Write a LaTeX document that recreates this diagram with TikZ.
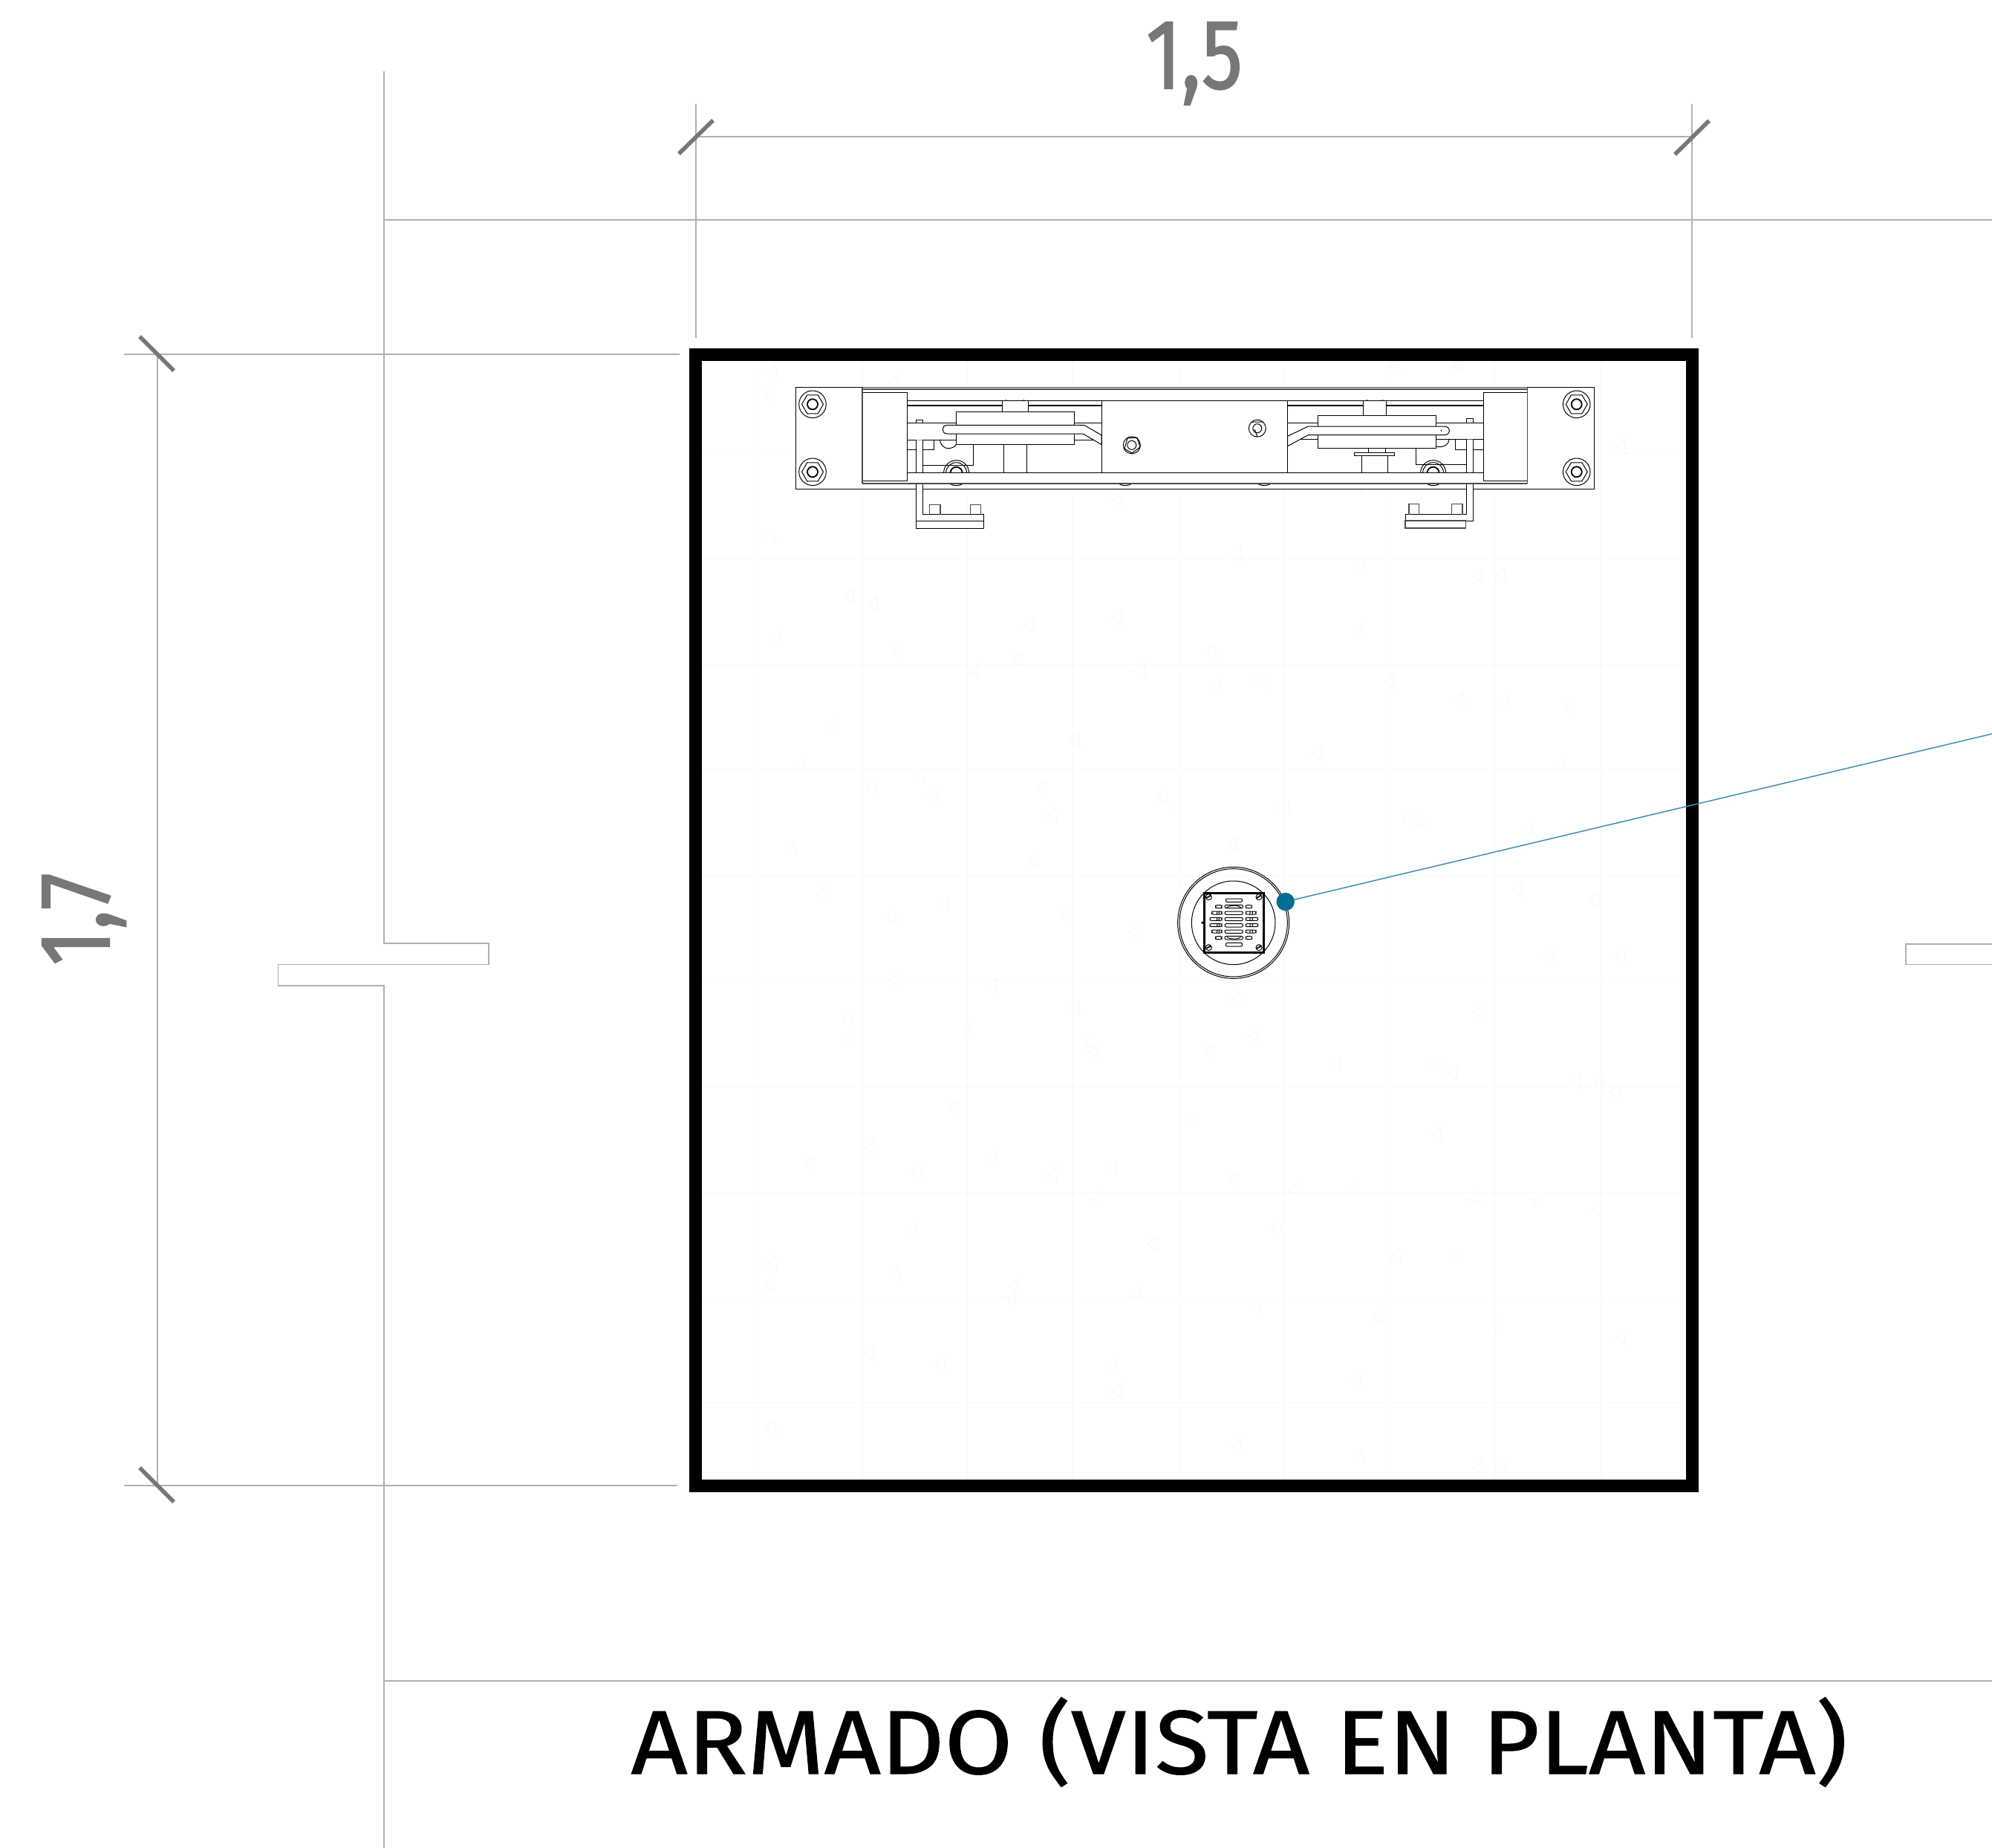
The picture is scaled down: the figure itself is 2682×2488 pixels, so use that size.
\documentclass[tikz,border=0pt]{standalone}
\usepackage{graphicx}
\usepackage{fontspec}
\setmainfont{Fira Sans}
\newfontfamily\dinnum[FakeBold=1.6]{Fira Sans}
\newfontfamily\dintitle[FakeBold=0.8]{Fira Sans}
\definecolor{dimgrey}{HTML}{777777}
\definecolor{lightln}{HTML}{B0B0B0}
\definecolor{faintln}{HTML}{F8F8F8}
\definecolor{leaderc}{HTML}{3F8FB0}
\definecolor{dotc}{HTML}{006D92}
\tikzset{
  refline/.style={draw=lightln,line width=1.3pt},
  tickmark/.style={draw=dimgrey,line width=5.5pt},
  mech/.style={draw=black,line width=1pt},
  mechw/.style={draw=black,line width=1pt,fill=white},
  mechthick/.style={draw=black,line width=1.8pt},
  mechgrey/.style={draw=black!70,line width=1.4pt},
  faint/.style={draw=faintln,line width=0.9pt},
  txt/.style={inner sep=0pt,outer sep=0pt,font=\fontsize{120}{120}\selectfont}
}
\newcommand{\boltset}[2]{%
  \draw[mech] (#1,#2) circle (18.3);
  \begin{scope}[shift={(#1pt,-#2pt)}]
    \draw[mech] (14.5,0)--(7.25,12.5)--(-7.25,12.5)--(-14.5,0)--(-7.25,-12.5)--(7.25,-12.5)--cycle;
    \draw[mechthick] (0,0) circle (7);
  \end{scope}}
\newcommand{\slotbox}[4]{\draw[mech,rounded corners=2pt] (#1,#2) rectangle (#3,#4);}
\begin{document}
\begin{tikzpicture}[x=1pt,y=-1pt]
\useasboundingbox (0,0) rectangle (2682,2488);
\fill[white] (0,0) rectangle (2682,2488);

% faint hatch of the slab
\begin{scope}
\clip (945,486) rectangle (2270,1992);
\foreach \yy in {610,752,894,1036,1178,1320,1462,1605,1747,1888}
  \draw[faint] (945,\yy) -- (2270,\yy);
\foreach \xx in {1019,1161,1302,1444,1587,1728,1870,2012,2155}
  \draw[faint] (\xx,486) -- (\xx,1992);
\foreach \dy in {-1200,0,1200}{
\begin{scope}[shift={(1000pt,-\dy pt-700pt)},x=0.765pt,y=-0.765pt]
\foreach \a/\b in {40/30,178/135,220/150,495/185,50/210,262/232,398/268,475/245,690/265,815/232,150/365,575/388,90/435,218/470,303/452,325/485,518/470,535/522,75/580,503/603,730/490,755/510,945/508,1160/528,1182/532,852/572,130/658,345/678,252/700,558/695,680/725,258/810,430/820,575/862,858/845,175/880,180/915,385/900,600/920,608/938,890/910,812/935,1035/960,1210/960,1240/975,360/1035,785/1058,215/1105,430/1125,108/1132,297/1150,535/1155,640/1142,615/1198,855/1160,962/1180,1068/1180,1212/1082,288/1250,712/1275,930/1248,1140/1298,1248/1298,42/1310,258/1328,468/1350,38/1348,462/1372,682/1365,892/1385,1108/1405,1318/1420,215/1468,338/1488,640/1490,1070/1515,650/1535,1497/992,1525/1008,1458/990,1285/868,1410/770,1535/770,1490/670,1355/652,1445/330,1330/322,1252/317,1130/285,1285/100,1325/100,1075/80,1075/197,860/62,650/175,900/285,825/295,1002/412,1428/435,1372/545,1280/1195,1390/1200,1495/1215,1535/1440}
  \draw[faint] (\a,\b) -- ++(16,-14) -- ++(2,24) -- cycle;
\end{scope}}
\end{scope}

% reference lines
\draw[refline] (517,96) -- (517,1270) -- (658,1270) -- (658,1298.5) -- (374.5,1298.5) -- (374.5,1327) -- (517,1327) -- (517,2488);
\draw[refline] (517,296) -- (2682,296);
\draw[refline] (517,2263) -- (2682,2263);
\draw[refline] (2682,1271) -- (2566,1271) -- (2566,1298.5) -- (2682,1298.5);

% dimension 1,5
\draw[refline] (937,140) -- (937,455);
\draw[refline] (2278,140) -- (2278,455);
\draw[refline] (937,184) -- (2278,184);
\draw[tickmark] (914,207) -- (960,162);
\draw[tickmark] (2255,208) -- (2301,162.5);
% dimension 1,7
\draw[refline] (167,477) -- (915,477);
\draw[refline] (167,2000) -- (912,2000);
\draw[refline] (212,477) -- (212,2000);
\draw[tickmark] (188,453) -- (234,499);
\draw[tickmark] (188,1976) -- (234,2022);

% leader and dot
\coordinate (leaderend) at (2682,988);

% plan of the mechanism: base plate
\draw[mechw] (1071.5,521.7) rectangle (2146,658.3);
\boltset{1094}{544.3}
\boltset{1094}{635.3}
\boltset{2122.7}{544.3}
\boltset{2122.7}{635.3}

% hidden rollers behind the bands
\foreach \cx in {1287.6,1515,1702,1929.6}{
  \draw[mech] (\cx,636.7) circle (17);
  \draw[mech] (\cx,636.7) circle (14);
  \draw[mechthick] (\cx,636.7) circle (8);
}

% left half (coordinates of a crop)
\begin{scope}[shift={(1050pt,-500pt)},x=0.34435pt,y=-0.33333pt]
  \fill[white] (500,118) rectangle (1260,278);
  \draw[mech] (497,118) -- (1260,118);
  \draw[mechthick] (497,137) -- (870,137);
  \draw[mechthick] (972,137) -- (1258,137);
  \draw[mech] (497,208) -- (690,208);
  \draw[mech] (1152,208) -- (1258,208);
  \draw[mech] (497,277) -- (690,277);
  \draw[mech] (1152,277) -- (1258,277);
  \draw[mech] (497,317) -- (603,317) -- (603,277);
  \draw[mech] (625,275) .. controls (628,300) and (645,311) .. (657,311) .. controls (672,311) and (685,305) .. (690,294);
  \draw[mech] (558,380) -- (757,380) -- (757,296);
  \draw[mechw] (875,296) rectangle (967,410);
  \draw[mechw] (870,118) rectangle (972,162);
  \draw[mech] (885,118) -- (885,115) (953,118) -- (953,115);
  \draw[mechw] (690,162) rectangle (1152,296);
  \draw[mechw] (1190,217) -- (655,217) .. controls (630,217) and (630,252) .. (655,252) -- (1185,252) -- (1258,296) -- (1258,258) -- cycle;
  \draw[mechw] (533,197) rectangle (558,208);
  % bracket
  \draw[mech,fill=white] (533,277) -- (533,635) -- (798,635) -- (798,578) -- (558,578) -- (558,277);
  \draw[mech] (533,605) -- (798,605);
  \draw[mechgrey] (585,578) -- (585,538) -- (627,538) -- (627,578);
  \draw[mechgrey] (745,578) -- (745,538) -- (786,538) -- (786,578);
\end{scope}

% right half (coordinates of a crop)
\begin{scope}[shift={(1580pt,-500pt)},x=0.36996pt,y=-0.33333pt]
  \fill[white] (415,118) rectangle (1127,278);
  \draw[mech] (415,118) -- (1127,118);
  \draw[mechthick] (415,137) -- (690,137);
  \draw[mechthick] (773,137) -- (1127,137);
  \draw[mech] (415,208) -- (525,208);
  \draw[mech] (956,208) -- (1127,208);
  \draw[mech] (415,275) -- (525,275);
  \draw[mech] (956,275) -- (1127,275);
  \draw[mech] (1027,275) -- (1027,315) -- (1127,315);
  \draw[mech] (956,303) .. controls (975,310) and (1003,300) .. (1003,272);
  \draw[mech] (883,311) -- (883,376) -- (1067,376);
  \draw[mech] (710,311) -- (710,327) (772,311) -- (772,327);
  \draw[mechw] (684,339) rectangle (779,410);
  \draw[mechw] (658,327) rectangle (805,339);
  \draw[mechw] (690,118) rectangle (773,177);
  \draw[mech] (705,118) -- (705,115) (760,118) -- (760,115);
  \draw[mechw] (525,177) rectangle (956,311);
  \draw[mechw] (490,222) -- (985,222) .. controls (1010,222) and (1010,257) .. (985,257) -- (490,257) -- (415,302) -- (415,262) -- cycle;
  \draw[mech] (975,238) -- (975,243);
  \draw[mechw] (1067,190) rectangle (1090,208);
  % bracket
  \draw[mech,fill=white] (1067,275) -- (1067,578) -- (845,578) -- (845,603) -- (1090,603) -- (1090,275);
  \draw[mechgrey,fill=white] (843,603) rectangle (1063,633);
  \draw[mechgrey] (857,578) -- (857,535) -- (893,535) -- (893,578);
  \draw[mechgrey] (1013,578) -- (1013,535) -- (1051,535) -- (1051,578);
\end{scope}

% centre block, bands and end blocks
\draw[mechw] (1483.9,539.3) rectangle (1733.5,636.7);
\draw[mech] (1523.8,599.3) circle (11.5);
\draw[mech] (1523.8,599.3) circle (6);
\draw[mech] (1514,604) -- (1518,590) -- (1531,589) -- (1535,602) -- (1524,610) -- cycle;
\draw[mech] (1692.8,576.7) circle (11.5);
\draw[mech] (1692.8,576.7) circle (6);
\draw[mech] (1685,568) -- (1700,568) (1689,578) -- (1693,588);
% bands
\fill[white] (1223,636.7) rectangle (1997,651);
\draw[mechgrey] (1161,521.7) -- (2056,521.7);
\draw[mechgrey] (1161,524) -- (2056,524);
\draw[mech] (1221,539.3) -- (1997,539.3);
\draw[mech] (1221,636.7) -- (1997,636.7);
\draw[mechgrey] (1161,651) -- (2056,651);
\draw[mechw] (1161,528.3) rectangle (1221,647.7);
\draw[mechw] (1997,528.3) rectangle (2056.5,647.7);
\draw[mechgrey] (1161,521.7) -- (1161,651);
\draw[mechgrey] (2056.5,521.7) -- (2056.5,651);

% drain (coordinates of a crop)
\begin{scope}[shift={(1570pt,-1150pt)},x=0.33333pt,y=-0.33333pt]
  \draw[mech] (272,277) circle (225);
  \draw[mech] (272,277) circle (218);
  \draw[mech] (272,277) circle (169);
  \draw[draw=black,line width=2.6pt,fill=white] (155,157) rectangle (395,397);
  \draw[mech] (150,393) -- (400,393);
  \foreach \px/\py in {172/173,375/173,172/377,375/377}{
    \draw[mech] (\px,\py) circle (12);
    \draw[mech] (\px-9,\py+5) -- (\px+9,\py-5);
    \draw[mech] (\px-9,\py+2) -- (\px+9,\py-8);
  }
  \draw[mech] (147,277) circle (3.5);
  \slotbox{241}{180}{308}{193}
  \slotbox{237}{205}{310}{218}
  \slotbox{237}{231}{310}{244}
  \slotbox{237}{256}{310}{269}
  \slotbox{237}{281}{310}{294}
  \slotbox{237}{306}{310}{319}
  \slotbox{237}{331}{310}{345}
  \slotbox{241}{358}{308}{372}
  \draw[mech] (245,215) .. controls (260,205) and (290,205) .. (302,215);
  \draw[mech] (245,335) .. controls (260,345) and (290,345) .. (302,335);
  \foreach \py/\xa/\xb in {212/200/347,237/185/363,262/177/371,287/177/371,312/185/363,338/200/347}{
    \slotbox{\xa}{\py-6}{225}{\py+6}
    \slotbox{322}{\py-6}{\xb}{\py+6}
  }
  \foreach \py in {237,262,287,312}{
    \draw[mech] (207,\py-6) -- (205,\py+6) (215,\py-6) -- (213,\py+6);
    \draw[mech] (340,\py-6) -- (338,\py+6) (350,\py-6) -- (348,\py+6);
  }
\end{scope}

% main square
\draw[draw=black,line width=17pt] (936.8,477) rectangle (2278.5,2000);

% leader
\node[circle,fill=dotc,draw=none,minimum size=24pt,inner sep=0pt] (leaderdot) at (1730.7,1214) {};
\draw[draw=leaderc,line width=1.5pt] (leaderdot.center) -- (leaderend);
\node[circle,fill=dotc,draw=none,minimum size=24pt,inner sep=0pt] (leaderdottop) at (leaderdot.center) {};

% texts
\node[txt,text=dimgrey,anchor=base west] (dimw) at (1543,119) {\resizebox{130pt}{89pt}{\dinnum 1,5}};
\node[txt,text=dimgrey,anchor=base west,rotate=90] (dimh) at (147,1300) {\resizebox{125pt}{90pt}{\dinnum 1,7}};
\node[txt,text=black,anchor=base west] (title) at (849.5,2388) {\resizebox{1638pt}{103pt}{\dintitle ARMADO (VISTA EN PLANTA)}};
\end{tikzpicture}
\end{document}
